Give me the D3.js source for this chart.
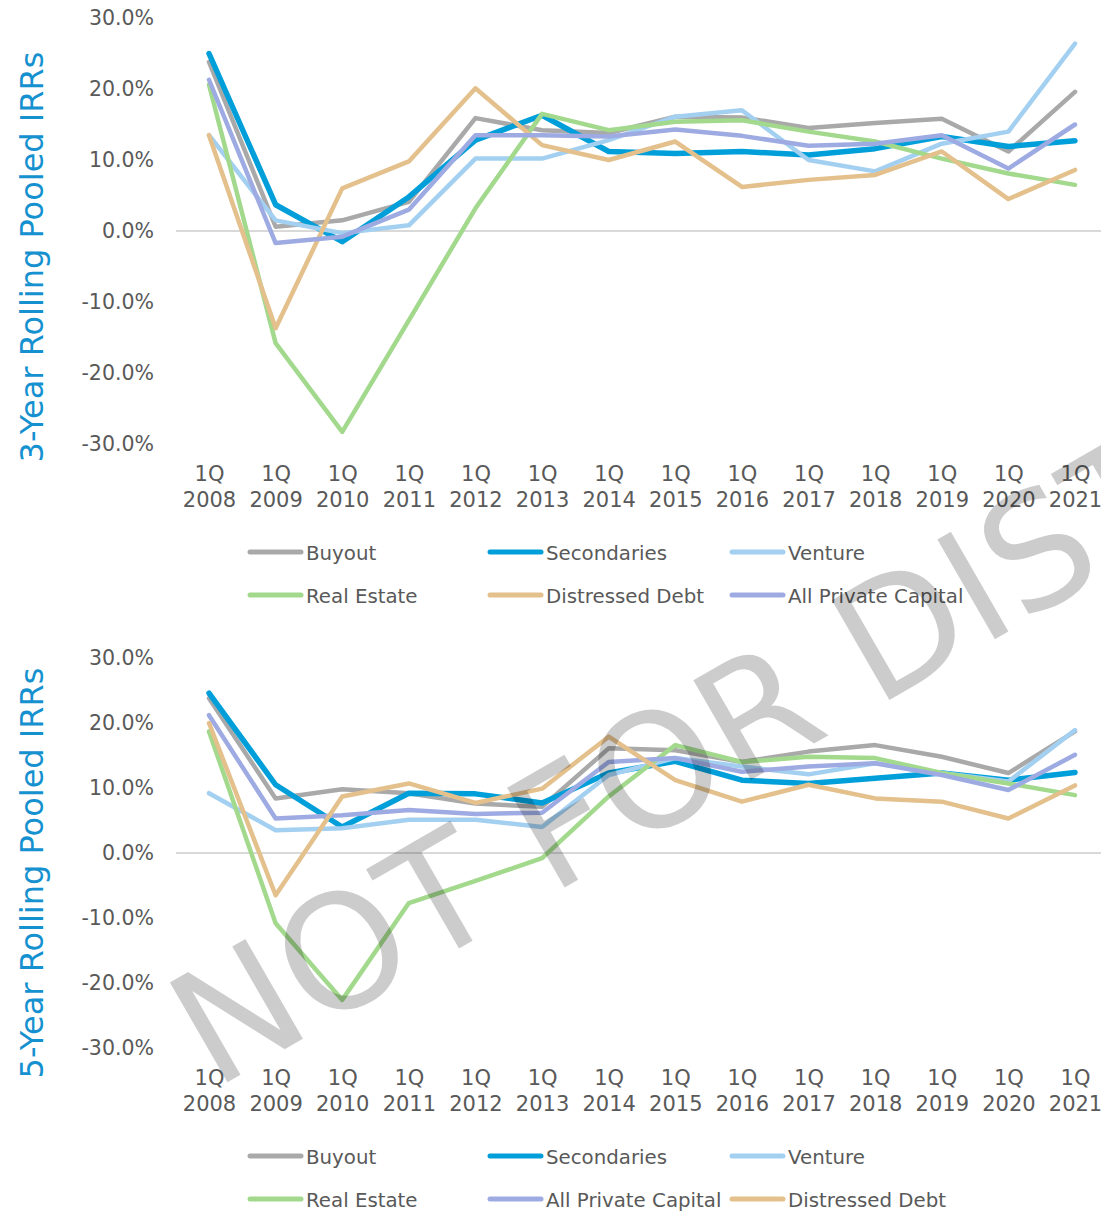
<!DOCTYPE html>
<html><head><meta charset="utf-8">
<script src="https://cdn.jsdelivr.net/npm/d3@7"></script>
<style>
html,body{margin:0;padding:0;background:#fff;}
svg{display:block;}
text{font-family:"DejaVu Sans",sans-serif;}
</style></head>
<body>
<svg id="chart" width="1101" height="1214"></svg>
<script>
const categories = ["2008","2009","2010","2011","2012","2013","2014","2015","2016","2017","2018","2019","2020","2021"];
const yTicks = [-30,-20,-10,0,10,20,30];

// 3-Year Rolling Pooled IRRs (%)
const buyout3      = [23.8, 0.6, 1.5, 4.1, 15.9, 14.2, 13.8, 16.1, 16.0, 14.5, 15.2, 15.8, 11.2, 19.6];
const secondaries3 = [25.0, 3.7, -1.5, 4.8, 12.8, 16.3, 11.2, 10.9, 11.2, 10.7, 11.6, 13.3, 11.9, 12.7];
const venture3     = [13.5, 1.5, -0.3, 0.8, 10.2, 10.2, 12.8, 16.1, 17.0, 10.0, 8.4, 12.3, 14.0, 26.4];
const realEstate3  = [20.6, -15.8, -28.3, -12.6, 3.2, 16.5, 14.2, 15.4, 15.6, 14.0, 12.6, 10.2, 8.1, 6.5];
const distressed3  = [13.5, -13.7, 6.0, 9.8, 20.1, 12.1, 10.0, 12.6, 6.2, 7.2, 7.9, 11.2, 4.5, 8.6];
const allPrivate3  = [21.3, -1.7, -0.8, 3.0, 13.5, 13.5, 13.3, 14.3, 13.4, 12.0, 12.3, 13.5, 8.8, 15.0];

// 5-Year Rolling Pooled IRRs (%)
const buyout5      = [23.8, 8.4, 9.8, 9.2, 7.6, 7.1, 16.1, 15.8, 14.0, 15.6, 16.6, 14.8, 12.3, 18.7];
const secondaries5 = [24.6, 10.5, 4.0, 9.2, 9.1, 7.7, 12.3, 14.1, 11.2, 10.7, 11.5, 12.3, 11.2, 12.4];
const venture5     = [9.2, 3.5, 3.8, 5.1, 5.1, 4.0, 12.0, 14.6, 13.3, 12.1, 13.8, 12.3, 11.0, 18.9];
const realEstate5  = [18.7, -10.8, -22.6, -7.7, -4.3, -0.8, 8.7, 16.6, 14.0, 14.8, 14.6, 12.3, 10.7, 8.9];
const distressed5  = [20.0, -6.5, 8.7, 10.7, 7.7, 9.9, 17.9, 11.2, 7.9, 10.5, 8.4, 7.9, 5.3, 10.4];
const allPrivate5  = [21.2, 5.3, 5.8, 6.6, 6.0, 6.2, 14.0, 14.6, 12.5, 13.3, 13.8, 12.0, 9.7, 15.1];

const colors = {
  "Buyout":"#A9A9A9",
  "Secondaries":"#009FDA",
  "Venture":"#A3D0F1",
  "Real Estate":"#A2D98C",
  "Distressed Debt":"#E3C08C",
  "All Private Capital":"#9EABE2"
};

const series3 = [
  {name:"Buyout", values:buyout3},
  {name:"Secondaries", values:secondaries3},
  {name:"Venture", values:venture3},
  {name:"Real Estate", values:realEstate3},
  {name:"Distressed Debt", values:distressed3},
  {name:"All Private Capital", values:allPrivate3}
];
const series5 = [
  {name:"Buyout", values:buyout5},
  {name:"Secondaries", values:secondaries5},
  {name:"Venture", values:venture5},
  {name:"Real Estate", values:realEstate5},
  {name:"All Private Capital", values:allPrivate5},
  {name:"Distressed Debt", values:distressed5}
];

const svg = d3.select("#chart");
const textColor = "#595959";
const FONT = "'DejaVu Sans',sans-serif";

function drawChart(cfg){
  const g = svg.append("g");
  const x = d3.scalePoint().domain(categories).range([209,1075]);
  const y = d3.scaleLinear().domain([-30,30]).range([cfg.y0, cfg.y1]);

  // zero line
  g.append("line")
    .attr("x1",176).attr("x2",1101)
    .attr("y1",y(0)).attr("y2",y(0))
    .attr("stroke","#D9D9D9").attr("stroke-width",2);

  // y axis
  const ya = g.append("g").attr("transform","translate(160,0)")
    .call(d3.axisLeft(y).tickValues(yTicks).tickSize(0).tickPadding(6)
      .tickFormat(d => d.toFixed(1)+"%"));
  ya.select(".domain").remove();
  ya.selectAll("text").attr("font-size",20.5).attr("fill",textColor)
    .attr("font-family",FONT);

  // x axis
  const xa = g.append("g").attr("transform",`translate(0,${cfg.y0})`)
    .call(d3.axisBottom(x).tickSize(0).tickFormat(""));
  xa.select(".domain").remove();
  xa.selectAll(".tick").each(function(d){
    const t = d3.select(this).append("text")
      .attr("fill",textColor).attr("font-size",21).attr("text-anchor","middle")
      .attr("font-family",FONT);
    t.append("tspan").attr("x",0).attr("y",37).text("1Q");
    t.append("tspan").attr("x",0).attr("y",63).text(d);
  });

  // y title
  g.append("text")
    .attr("transform",`translate(43,${cfg.titleY}) rotate(-90)`)
    .attr("text-anchor","middle").attr("font-size",32).attr("fill","#1591D0")
    .attr("font-family",FONT)
    .text(cfg.title);

  // lines
  const line = d3.line().x((d,i)=>x(categories[i])).y(d=>y(d));
  g.selectAll("path.series").data(cfg.series).enter().append("path")
    .attr("class","series")
    .attr("d", d => line(d.values))
    .attr("fill","none")
    .attr("stroke", d => colors[d.name])
    .attr("stroke-width", d => d.name==="Secondaries" ? 5.5 : 4.5)
    .attr("stroke-linecap","round").attr("stroke-linejoin","round");

  // legend
  const colX = [248,488,730];
  const rowY = [cfg.legendY, cfg.legendY+43];
  cfg.series.forEach((s,i)=>{
    const cx = colX[i%3], cy = rowY[Math.floor(i/3)];
    const lg = g.append("g").attr("transform",`translate(${cx},${cy})`);
    lg.append("line").attr("x1",2).attr("x2",53).attr("y1",0).attr("y2",0)
      .attr("stroke",colors[s.name]).attr("stroke-width",5).attr("stroke-linecap","round");
    lg.append("text").attr("x",58).attr("y",7.5).attr("font-size",19.8)
      .attr("fill",textColor).attr("font-family",FONT).text(s.name);
  });
}

drawChart({y0:444, y1:18, title:"3-Year Rolling Pooled IRRs", titleY:257, series:series3, legendY:552});
drawChart({y0:1048, y1:658, title:"5-Year Rolling Pooled IRRs", titleY:873, series:series5, legendY:1156});

// watermark
svg.append("text")
  .attr("transform","translate(214,1090) rotate(-30)")
  .attr("font-size",158)
  .attr("fill","rgba(0,0,0,0.2)")
  .attr("font-family","'Liberation Sans',Arial,sans-serif")
  .text("NOT FOR DISTRIBUTION");
</script>
</body></html>
